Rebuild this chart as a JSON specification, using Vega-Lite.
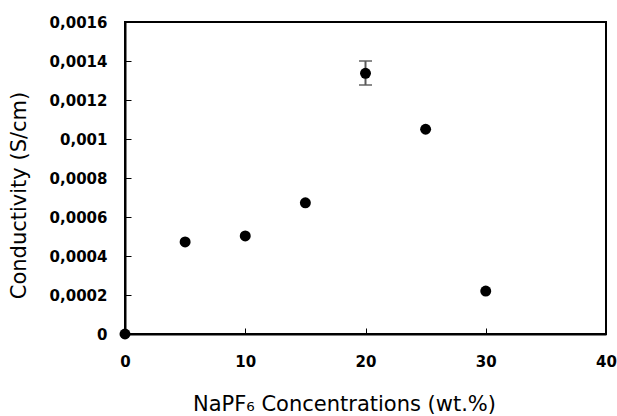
{
  "$schema": "https://vega.github.io/schema/vega-lite/v6.json",
  "width": 481,
  "height": 312,
  "autosize": {"type": "none"},
  "padding": {"left": 125, "top": 22, "right": 11, "bottom": 82},
  "background": "white",
  "config": {
    "view": {"stroke": "black", "strokeWidth": 2},
    "axis": {
      "grid": false,
      "domainColor": "black",
      "domainWidth": 2,
      "tickColor": "black",
      "tickWidth": 1,
      "labelFont": "DejaVu Sans",
      "labelFontWeight": "bold",
      "labelFontSize": 15,
      "labelColor": "black",
      "labelOverlap": false,
      "labelFlush": false,
      "titleFont": "DejaVu Sans",
      "titleFontWeight": "normal",
      "titleFontSize": 21,
      "titleColor": "black"
    }
  },
  "data": {
    "values": [
      {"conc": 0, "cond": 0},
      {"conc": 5, "cond": 0.000472},
      {"conc": 10, "cond": 0.000503},
      {"conc": 15, "cond": 0.000673},
      {"conc": 20, "cond": 0.001337, "lo": 0.001277, "hi": 0.0014},
      {"conc": 25, "cond": 0.00105},
      {"conc": 30, "cond": 0.00022}
    ]
  },
  "encoding": {
    "x": {
      "field": "conc",
      "type": "quantitative",
      "scale": {"domain": [0, 40], "nice": false},
      "axis": {
        "values": [0, 10, 20, 30, 40],
        "tickSize": -6,
        "labelPadding": 26,
        "title": "NaPF₆ Concentrations (wt.%)",
        "titleX": 219,
        "titleAlign": "center",
        "titlePadding": 24
      }
    }
  },
  "layer": [
    {
      "mark": {"type": "rule", "color": "#595959", "strokeWidth": 2},
      "encoding": {
        "y": {
          "field": "lo", "type": "quantitative",
          "scale": {"domain": [0, 0.0016], "nice": false},
          "axis": {
            "values": [0, 0.0002, 0.0004, 0.0006, 0.0008, 0.001, 0.0012, 0.0014, 0.0016],
            "labelExpr": "replace(format(datum.value, '~r'), '.', ',')",
            "labelOverlap": false,
            "tickSize": -6,
            "labelPadding": 24,
            "title": "Conductivity (S/cm)",
            "titleY": 173,
            "titleAlign": "center",
            "titlePadding": 20
          }
        },
        "y2": {"field": "hi"}
      }
    },
    {
      "mark": {"type": "tick", "color": "#595959", "thickness": 2, "size": 13, "orient": "horizontal"},
      "encoding": {
        "y": {
          "field": "lo", "type": "quantitative",
          "scale": {"domain": [0, 0.0016], "nice": false},
          "axis": {
            "values": [0, 0.0002, 0.0004, 0.0006, 0.0008, 0.001, 0.0012, 0.0014, 0.0016],
            "labelExpr": "replace(format(datum.value, '~r'), '.', ',')",
            "labelOverlap": false,
            "tickSize": -6,
            "labelPadding": 24,
            "title": "Conductivity (S/cm)",
            "titleY": 173,
            "titleAlign": "center",
            "titlePadding": 20
          }
        }
      }
    },
    {
      "mark": {"type": "tick", "color": "#595959", "thickness": 2, "size": 13, "orient": "horizontal"},
      "encoding": {
        "y": {
          "field": "hi", "type": "quantitative",
          "scale": {"domain": [0, 0.0016], "nice": false},
          "axis": {
            "values": [0, 0.0002, 0.0004, 0.0006, 0.0008, 0.001, 0.0012, 0.0014, 0.0016],
            "labelExpr": "replace(format(datum.value, '~r'), '.', ',')",
            "labelOverlap": false,
            "tickSize": -6,
            "labelPadding": 24,
            "title": "Conductivity (S/cm)",
            "titleY": 173,
            "titleAlign": "center",
            "titlePadding": 20
          }
        }
      }
    },
    {
      "mark": {"type": "circle", "color": "black", "opacity": 1, "size": 120, "clip": false},
      "encoding": {
        "y": {
          "field": "cond",
          "type": "quantitative",
          "scale": {"domain": [0, 0.0016], "nice": false},
          "axis": {
            "values": [0, 0.0002, 0.0004, 0.0006, 0.0008, 0.001, 0.0012, 0.0014, 0.0016],
            "labelExpr": "replace(format(datum.value, '~r'), '.', ',')",
            "labelOverlap": false,
            "tickSize": -6,
            "labelPadding": 24,
            "title": "Conductivity (S/cm)",
            "titleY": 173,
            "titleAlign": "center",
            "titlePadding": 20
          }
        }
      }
    }
  ],
  "resolve": {"scale": {"y": "shared"}}
}
